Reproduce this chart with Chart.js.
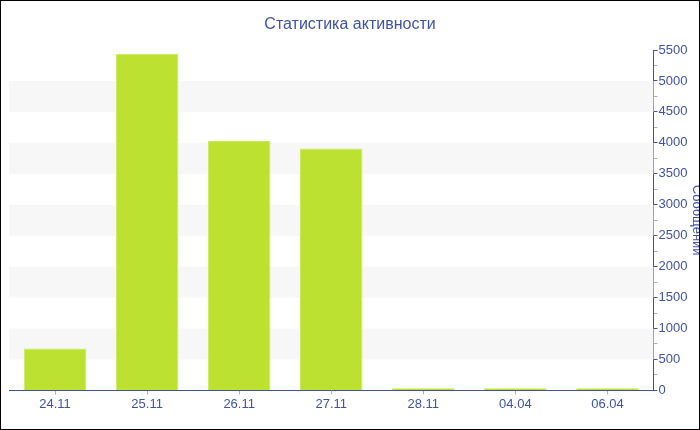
<!DOCTYPE html>
<html><head><meta charset="utf-8">
<script src="https://cdn.jsdelivr.net/npm/chart.js@4/dist/chart.umd.min.js"></script>
<style>
html,body{margin:0;padding:0;background:#fff;}
#wrap{width:700px;height:430px;box-sizing:border-box;border:1px solid #000;position:relative;overflow:hidden;}
canvas{display:block;}
</style></head>
<body><div id="wrap"><canvas id="c" width="698" height="428"></canvas></div>
<script>
const categories = ["24.11","25.11","26.11","27.11","28.11","04.04","06.04"];
const messages = [675, 5440, 4030, 3910, 35, 35, 35];
const titleText = "Статистика активности";
const yAxisTitle = "Сообщений";
const yMax = 5500;
const bandRanges = [[500,1000],[1500,2000],[2500,3000],[3500,4000],[4500,5000]];

const BLUE = '#3f53a3';
const bandsPlugin = {
  id: 'bands',
  beforeDatasetsDraw(chart) {
    const {ctx, chartArea, scales} = chart;
    const y = scales.y;
    ctx.save();
    ctx.fillStyle = '#f7f7f7';
    bandRanges.forEach(([a,b]) => {
      const y1 = y.getPixelForValue(b), y2 = y.getPixelForValue(a);
      ctx.fillRect(chartArea.left, y1, chartArea.right - chartArea.left, y2 - y1);
    });
    ctx.restore();
  }
};
const centeredTitle = {
  id: 'centeredTitle',
  afterDraw(chart) {
    const ctx = chart.ctx;
    ctx.save();
    ctx.fillStyle = BLUE;
    ctx.font = '16px "Liberation Sans"';
    ctx.textAlign = 'center';
    ctx.textBaseline = 'middle';
    ctx.fillText(titleText, chart.width / 2, 24);
    ctx.restore();
  }
};

new Chart(document.getElementById('c'), {
  type: 'bar',
  data: {
    labels: categories,
    datasets: [{
      data: messages,
      backgroundColor: '#bce130',
      borderColor: '#cbe95c',
      borderWidth: 1,
      categoryPercentage: 0.68,
      barPercentage: 1.0
    }]
  },
  plugins: [bandsPlugin, centeredTitle],
  options: {
    responsive: false,
    animation: false,
    layout: { padding: { left: 8, right: -5, top: 49, bottom: 15 } },
    plugins: {
      legend: { display: false },
      tooltip: { enabled: false },
      title: { display: false }
    },
    scales: {
      x: {
        grid: { display: true, drawOnChartArea: false, offset: false, tickLength: 4, color: '#b0b0b0' },
        border: { display: true, color: BLUE, width: 1 },
        ticks: { color: BLUE, font: { family: 'Liberation Sans', size: 13 }, padding: 2, maxRotation: 0 }
      },
      y: {
        position: 'right',
        min: 0, max: yMax,
        grid: {
          display: true, drawOnChartArea: false, tickLength: 4,
          color: (c) => (c.tick && c.tick.value % 500 === 0) ? BLUE : '#b0b0b0'
        },
        border: { display: true, color: BLUE, width: 1 },
        ticks: {
          stepSize: 250, color: BLUE, padding: 1, autoSkip: false,
          font: { family: 'Liberation Sans', size: 13 },
          callback: (v) => (v % 500 === 0) ? String(v) : ''
        },
        title: {
          display: true, text: yAxisTitle, color: BLUE,
          font: { family: 'Liberation Sans', size: 13 }, padding: { top: 0, bottom: 0 }
        }
      }
    }
  }
});
</script></body></html>
